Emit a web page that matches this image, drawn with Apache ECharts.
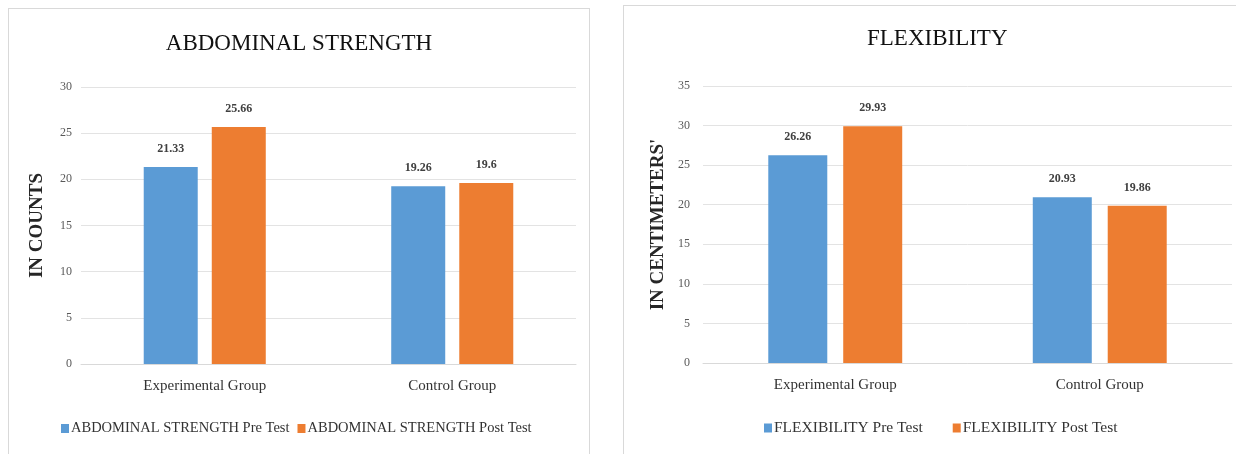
<!DOCTYPE html>
<html>
<head>
<meta charset="utf-8">
<script src="https://cdn.jsdelivr.net/npm/echarts@6/dist/echarts.min.js"></script>
<style>
  html, body { margin: 0; padding: 0; background: #fff; width: 1236px; height: 454px; overflow: hidden; }
  .panel { position: absolute; border: 1px solid #d9d9d9; background: #fff; box-sizing: border-box; }
  #abd { left: 8px; top: 8px; width: 582px; height: 460px; }
  #flex { left: 623px; top: 5px; width: 630px; height: 460px; }
</style>
</head>
<body>
<div id="abd" class="panel"></div>
<div id="flex" class="panel"></div>
<script>
// Groups compared in both tests
const categories = ['Experimental Group', 'Control Group'];

// Abdominal strength (counts)
const abdominalPre = [21.33, 19.26];
const abdominalPost = [25.66, 19.6];
const abdominalTicks = { min: 0, max: 30, interval: 5 };

// Flexibility (centimeters)
const flexibilityPre = [26.26, 20.93];
const flexibilityPost = [29.93, 19.86];
const flexibilityTicks = { min: 0, max: 35, interval: 5 };

const BLUE = '#5b9bd5';
const ORANGE = '#ed7d31';
const FONT = '"Liberation Serif", "DejaVu Serif", serif';

function buildOption(cfg) {
  const labelStyle = {
    show: true, position: 'top', distance: 12,
    fontFamily: FONT, fontSize: 12, fontWeight: 'bold', color: '#404040',
    formatter: p => String(p.value)
  };
  return {
    animation: false,
    textStyle: { fontFamily: FONT },
    title: {
      text: cfg.title, top: cfg.titleTop, left: cfg.titleLeft,
      textStyle: { fontFamily: FONT, fontSize: 23, fontWeight: 'normal', color: '#111' }
    },
    legend: {
      bottom: cfg.legendBottom, left: cfg.legendLeft,
      icon: 'rect', itemWidth: 8, itemHeight: 9, itemGap: cfg.legendGap,
      textStyle: { fontFamily: FONT, fontSize: cfg.legendSize, color: '#333', padding: [0, 0, 0, -3] },
      data: [cfg.preName, cfg.postName]
    },
    grid: { left: cfg.gridLeft, top: cfg.gridTop, width: cfg.gridWidth, height: 277, containLabel: false },
    xAxis: {
      type: 'category', data: categories,
      axisTick: { show: false },
      axisLine: { lineStyle: { color: '#d9d9d9' } },
      axisLabel: { fontFamily: FONT, fontSize: 15, color: '#333', margin: 15 }
    },
    yAxis: {
      type: 'value', min: cfg.ticks.min, max: cfg.ticks.max, interval: cfg.ticks.interval,
      name: cfg.yName, nameLocation: 'middle', nameGap: cfg.nameGap, nameRotate: 90,
      nameTextStyle: { fontFamily: FONT, fontSize: cfg.nameSize, fontWeight: 'bold', color: '#262626' },
      axisLine: { show: false }, axisTick: { show: false },
      axisLabel: { fontFamily: FONT, fontSize: 12, color: '#595959', margin: cfg.tickMargin },
      splitLine: { lineStyle: { color: '#e3e3e3' } }
    },
    series: [
      { name: cfg.preName, type: 'bar', data: cfg.pre, barWidth: cfg.barWidth, barGap: cfg.barGap,
        itemStyle: { color: BLUE }, label: labelStyle },
      { name: cfg.postName, type: 'bar', data: cfg.post, barWidth: cfg.barWidth, barGap: cfg.barGap,
        itemStyle: { color: ORANGE }, label: labelStyle }
    ]
  };
}

echarts.init(document.getElementById('abd'), null, { renderer: 'canvas' }).setOption(buildOption({
  title: 'ABDOMINAL STRENGTH', titleTop: 18, titleLeft: 'center',
  yName: 'IN COUNTS', nameGap: 34, nameSize: 19, tickMargin: 9,
  preName: 'ABDOMINAL STRENGTH Pre Test', postName: 'ABDOMINAL STRENGTH Post Test',
  pre: abdominalPre, post: abdominalPost, ticks: abdominalTicks,
  gridLeft: 72, gridTop: 78, gridWidth: 495,
  barWidth: 54, barGap: '26%',
  legendBottom: 26, legendLeft: 47, legendGap: 8, legendSize: 14.5
}));

echarts.init(document.getElementById('flex'), null, { renderer: 'canvas' }).setOption(buildOption({
  title: 'FLEXIBILITY', titleTop: 16, titleLeft: 238,
  yName: "IN CENTIMETERS'", nameGap: 35, nameSize: 19, tickMargin: 13,
  preName: 'FLEXIBILITY Pre Test', postName: 'FLEXIBILITY Post Test',
  pre: flexibilityPre, post: flexibilityPost, ticks: flexibilityTicks,
  gridLeft: 79, gridTop: 80, gridWidth: 529,
  barWidth: 59, barGap: '27%',
  legendBottom: 23, legendLeft: 135, legendGap: 30, legendSize: 15.5
}));
</script>
</body>
</html>
